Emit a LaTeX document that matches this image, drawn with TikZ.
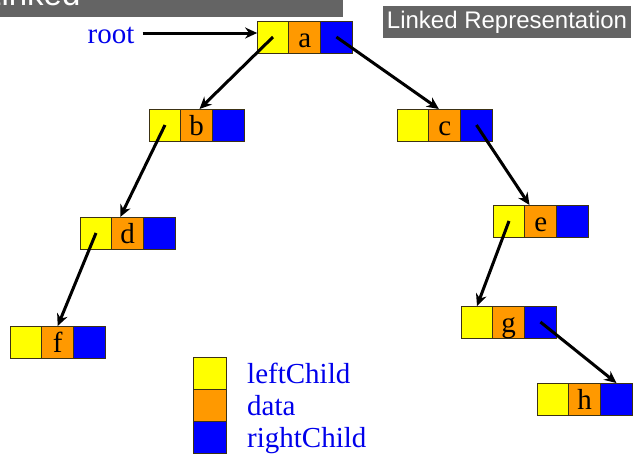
\documentclass[tikz,border=0pt]{standalone}
\usepackage{fontspec}
\setmainfont{Liberation Serif}
\newfontfamily\bannerfont{Liberation Sans}
\usepackage{xcolor}
\usetikzlibrary{arrows.meta, positioning}
\definecolor{cellyellow}{RGB}{255,255,0}
\definecolor{cellorange}{RGB}{255,153,0}
\definecolor{cellblue}{RGB}{0,0,255}
\definecolor{cellline}{RGB}{60,50,20}
\definecolor{bannergray}{RGB}{100,100,100}
\definecolor{keyblue}{RGB}{0,0,235}

\begin{document}
\begin{tikzpicture}[x=1pt, y=-1pt,
    cell/.style={draw=cellline, line width=1pt, minimum width=31.7pt, minimum height=32pt, inner sep=0pt, outer sep=0pt, font=\fontsize{29}{31}\selectfont, text height=20pt, text depth=0pt},
    lcell/.style={cell, fill=cellyellow},
    dcell/.style={cell, fill=cellorange},
    rcell/.style={cell, fill=cellblue},
    keytext/.style={text=keyblue, inner sep=0pt, font=\fontsize{29}{31}\selectfont, text height=20pt, text depth=0pt},
    link/.style={line width=3pt, -{Stealth[length=12pt,width=11pt]}}]
    \useasboundingbox (0,0) rectangle (640,464);

    \fill[bannergray] (0,0) rectangle (343,16.5);
    \begin{scope}
    \clip (0,0) rectangle (343,16.5);
    \node[anchor=base west, inner sep=0pt, text=white, font=\bannerfont\fontsize{33}{35}\selectfont] (head) at (-17,5.2) {Linked};
    \end{scope}
    \node[fill=bannergray, text=white, font=\bannerfont\fontsize{24}{26}\selectfont, minimum width=248pt, minimum height=32pt, inner sep=0pt] (title) at (507,22) {Linked Representation};

    \node[keytext, inner xsep=8pt] (root) at (111,33) {root};

    \node[lcell] (aL) at (273,37) {};
    \node[dcell, right=0pt of aL] (aD) {a};
    \node[rcell, right=0pt of aD] (aR) {};

    \node[lcell] (bL) at (165,125) {};
    \node[dcell, right=0pt of bL] (bD) {b};
    \node[rcell, right=0pt of bD] (bR) {};

    \node[lcell] (cL) at (413,125) {};
    \node[dcell, right=0pt of cL] (cD) {c};
    \node[rcell, right=0pt of cD] (cR) {};

    \node[lcell] (dL) at (96,233) {};
    \node[dcell, right=0pt of dL] (dD) {d};
    \node[rcell, right=0pt of dD] (dR) {};

    \node[lcell] (eL) at (509,221) {};
    \node[dcell, right=0pt of eL] (eD) {e};
    \node[rcell, right=0pt of eD] (eR) {};

    \node[lcell] (fL) at (26,342) {};
    \node[dcell, right=0pt of fL] (fD) {f};
    \node[rcell, right=0pt of fD] (fR) {};

    \node[lcell] (gL) at (477,322) {};
    \node[dcell, right=0pt of gL] (gD) {g};
    \node[rcell, right=0pt of gD] (gR) {};

    \node[lcell] (hL) at (553,399) {};
    \node[dcell, right=0pt of hL] (hD) {h};
    \node[rcell, right=0pt of hD] (hR) {};

    \draw[link] (root.east) -- (root.east -| aL.west);
    \draw[link] (aL.center) -- (bD.80);
    \draw[link] (aR.center) -- (cD.110);
    \draw[link] (bL.center) -- (dD.115);
    \draw[link] (dL.center) -- (fD.north);
    \draw[link] (cR.center) -- (eD.125);
    \draw[link] (eL.center) -- (gL.north);
    \draw[link] (gR.center) -- (hR.north);

    \node[lcell, minimum width=33pt] (keyL) at (209.5,373) {};
    \node[dcell, minimum width=33pt, below=0pt of keyL] (keyD) {};
    \node[rcell, minimum width=33pt, below=0pt of keyD] (keyR) {};
    \node[keytext, right=21pt of keyL] (keyLtext) {leftChild};
    \node[keytext, right=21pt of keyD] (keyDtext) {data};
    \node[keytext, right=21pt of keyR] (keyRtext) {rightChild};
\end{tikzpicture}
\end{document}
